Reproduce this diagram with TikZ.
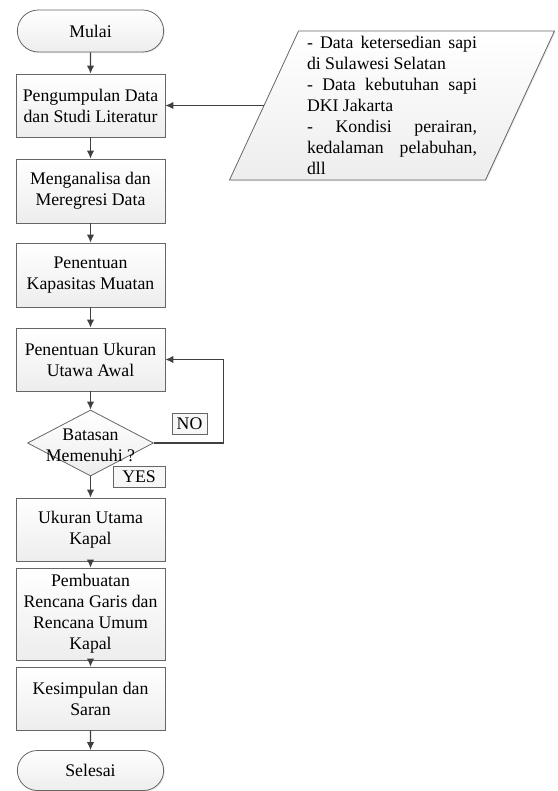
\documentclass[tikz,border=0pt]{standalone}
\usepackage{fontspec}
\setmainfont{Liberation Serif}
\usepackage{tikz}
\usetikzlibrary{shapes,arrows,arrows.meta,positioning,shadows}

\begin{document}
\begin{tikzpicture}[
  x=0.75pt, y=-0.75pt,
  proc/.style={draw=black!60, line width=0.6pt, minimum width=111.75pt,
               minimum height=47.25pt, align=center, inner sep=1pt,
               top color=white, bottom color=gray!14,
               drop shadow={shadow xshift=0.8pt, shadow yshift=-0.8pt, fill=gray!35}},
  term/.style={proc, rounded rectangle, minimum height=31.5pt},
  dec/.style={draw=black!60, line width=0.6pt, diamond, inner sep=0pt,
              minimum width=94.5pt, minimum height=49.5pt,
              top color=white, bottom color=gray!14},
  io/.style={draw=black!60, line width=0.6pt, trapezium,
             trapezium left angle=64, trapezium right angle=116,
             trapezium stretches body=true,
             minimum width=243.75pt, minimum height=111.75pt, inner sep=1pt,
             top color=white, bottom color=gray!14,
             drop shadow={shadow xshift=0.8pt, shadow yshift=-0.8pt, fill=gray!35}},
  tag/.style={draw=black!60, line width=0.6pt, fill=gray!6,
              minimum height=15.75pt, minimum width=26.25pt, inner sep=1pt},
  arr/.style={-{Latex[length=6pt,width=5.5pt]}, line width=0.8pt, black!75},
  font=\fontsize{13.3pt}{15.8pt}\selectfont
]
\useasboundingbox (0,0) rectangle (557,791);

% ===== Main flow =====
\node[term] (mulai) at (90.5,31) {Mulai};
\node[proc] (b1) at (90.5,105.5) {Pengumpulan Data\\dan Studi Literatur};
\node[proc, minimum height=48pt] (b2) at (90.5,191) {Menganalisa dan\\Meregresi Data};
\node[proc, minimum height=48pt] (b3) at (90.5,275) {Penentuan\\Kapasitas Muatan};
\node[proc] (b4) at (90.5,359.5) {Penentuan Ukuran\\Utawa Awal};
\node[dec] (dia) at (90.5,443) {};
\node[align=center, inner sep=0pt] (diatext) at (90.5,445) {Batasan\\Memenuhi ?};
\node[proc] (b5) at (90.5,529.5) {Ukuran Utama\\Kapal};
\node[proc, minimum height=69pt] (b6) at (90.5,614) {Pembuatan\\Rencana Garis dan\\Rencana Umum\\Kapal};
\node[proc] (b7) at (90.5,698.5) {Kesimpulan dan\\Saran};
\node[term, minimum height=30pt] (selesai) at (90.5,770.5) {Selesai};

% ===== Input data =====
\node[io] (data) at (392,105.5) {%
  \begin{minipage}{127.5pt}\fontsize{13.3pt}{15.8pt}\selectfont
  \parindent=0pt\rightskip=0pt
  - Data ketersedian sapi\linebreak di Sulawesi Selatan\par
  - Data kebutuhan sapi\linebreak DKI Jakarta\par
  - Kondisi perairan,\linebreak kedalaman pelabuhan,\linebreak dll
  \end{minipage}};

% ===== Labels =====
\node[tag] (no) at (189.5,423.5) {NO};
\node[tag, minimum width=39pt] (yes) at (139,476.5) {YES};

% ===== Arrows =====
\draw[arr] (mulai) -- (b1);
\draw[arr] (data.left side) -- (b1.east);
\draw[arr] (b1) -- (b2);
\draw[arr] (b2) -- (b3);
\draw[arr] (b3) -- (b4);
\draw[arr] (b4) -- (dia);
\draw[arr] (dia.east) -- ++(70,0) |- (b4.east);
\draw[arr] (dia) -- (b5);
\draw[arr] (b5) -- (b6);
\draw[arr] (b6) -- (b7);
\draw[arr] (b7) -- (selesai);

\end{tikzpicture}
\end{document}
